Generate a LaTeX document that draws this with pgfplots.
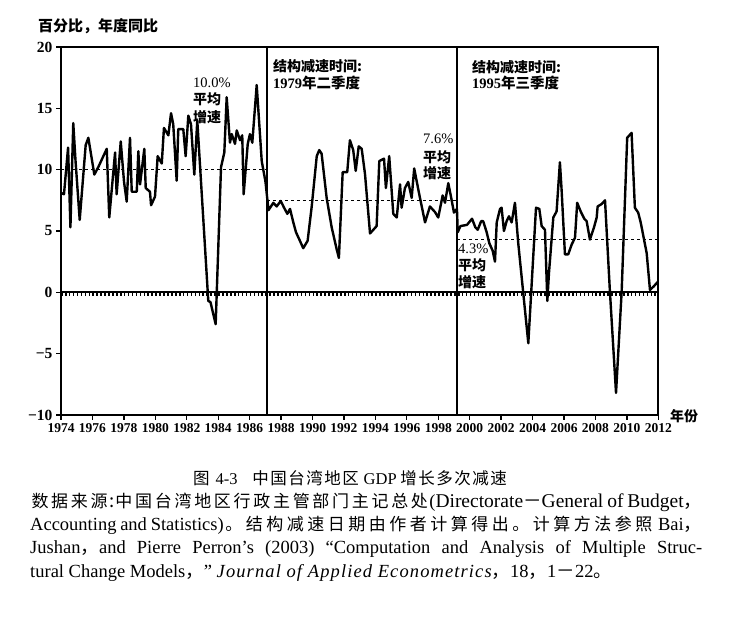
\documentclass[border=0pt]{standalone}
\usepackage{fontspec}
\usepackage{pgfplots}
\pgfplotsset{compat=1.18}
\setmainfont{Liberation Serif}
\newfontfamily\cjk{Noto Sans CJK SC}
\newlength\pitch
\def\spx#1{\ifx\relax#1\else\makebox[\pitch]{#1}\expandafter\spx\fi}
\newcommand\C[2][19.5pt]{{\cjk\setlength\pitch{#1}\spx#2\relax}}
\newcommand\Cs[2][19.5pt]{{\fontsize{17}{17}\selectfont\C[#1]{#2}}}
\pgfplotstableread{
x y
1974.00 8.1
1974.19 8.0
1974.45 11.8
1974.60 5.3
1974.78 13.8
1974.92 10.8
1975.19 5.9
1975.57 12.0
1975.74 12.6
1976.12 9.6
1976.37 10.2
1976.91 11.7
1977.07 6.1
1977.44 11.4
1977.54 8.0
1977.80 12.3
1978.01 9.0
1978.18 7.4
1978.39 12.6
1978.50 8.2
1978.82 8.2
1978.92 11.5
1979.03 8.8
1979.30 11.7
1979.39 8.5
1979.66 8.2
1979.73 7.1
1979.98 7.8
1980.15 11.1
1980.41 10.5
1980.55 13.4
1980.83 12.8
1981.00 14.6
1981.14 13.7
1981.36 9.1
1981.46 13.3
1981.78 13.3
1981.93 11.1
1982.10 14.4
1982.27 13.7
1982.48 9.6
1982.67 14.0
1983.37 -0.7
1983.51 -0.8
1983.84 -2.6
1984.18 10.2
1984.39 11.4
1984.54 15.9
1984.75 12.2
1984.86 12.9
1985.07 12.1
1985.18 13.2
1985.39 12.4
1985.53 12.8
1985.62 8.0
1985.88 12.1
1986.02 12.9
1986.17 12.2
1986.45 16.9
1986.77 10.7
1987.01 9.0
1987.20 6.7
1987.51 7.3
1987.72 7.0
1987.98 7.45
1988.19 6.9
1988.40 6.4
1988.57 6.8
1988.78 5.7
1988.95 4.9
1989.20 4.2
1989.41 3.6
1989.69 4.2
1989.95 7.0
1990.27 11.1
1990.43 11.6
1990.58 11.3
1990.90 7.7
1991.22 5.3
1991.54 3.5
1991.68 2.8
1991.92 9.8
1992.21 9.8
1992.38 12.4
1992.59 11.6
1992.75 9.9
1992.94 11.9
1993.13 11.7
1993.34 9.65
1993.66 4.8
1994.08 5.4
1994.25 10.7
1994.55 10.9
1994.67 8.5
1994.88 11.1
1995.14 6.4
1995.36 6.1
1995.57 8.8
1995.67 6.9
1995.88 8.5
1996.09 9.0
1996.31 7.7
1996.47 10.1
1996.79 8.0
1997.16 5.7
1997.47 7.0
1997.79 6.55
1998.00 6.1
1998.28 7.9
1998.43 7.3
1998.64 8.9
1998.81 7.8
1999.00 6.5
1999.19 6.8
1999.24 4.9
1999.41 5.4
1999.83 5.5
2000.15 6.0
2000.36 5.3
2000.51 5.1
2000.73 5.8
2000.86 5.8
2001.08 4.9
2001.25 4.0
2001.46 3.4
2001.61 2.5
2001.72 5.7
2001.93 6.8
2002.03 6.9
2002.18 5.0
2002.35 5.8
2002.50 6.2
2002.67 5.7
2002.88 7.3
2003.09 4.0
2003.73 -4.15
2004.22 6.9
2004.43 6.8
2004.58 5.4
2004.79 5.1
2004.94 -0.7
2005.04 1.5
2005.32 6.1
2005.53 6.6
2005.74 10.6
2005.85 8.3
2006.06 3.1
2006.27 3.1
2006.49 3.9
2006.70 4.45
2006.84 7.3
2007.06 6.6
2007.29 6.0
2007.44 5.8
2007.65 4.3
2007.91 5.3
2008.08 6.1
2008.14 7.0
2008.40 7.2
2008.61 7.5
2008.92 0.1
2009.31 -8.2
2009.67 0.1
2010.02 12.6
2010.30 13.0
2010.51 6.9
2010.72 6.5
2010.88 5.7
2011.26 3.2
2011.47 0.2
2011.72 0.5
2012.00 0.9
}\gdp
\begin{document}
\begin{tikzpicture}
\path[use as bounding box] (0pt,0pt) rectangle (736pt,629pt);
\begin{axis}[
  at={(61pt,214pt)}, anchor=south west,
  scale only axis, width=597.3pt, height=368pt,
  xmin=1974, xmax=2012, ymin=-10, ymax=20,
  xtick={1974,1976,...,2012}, ytick={-10,-5,...,20},
  yticklabels={−10,−5,0,5,10,15,20},
  xtick pos=bottom, ytick pos=left,
  tick align=outside, major tick length=5pt,
  tick style={black, line width=1.3pt},
  axis line style={line width=1.7pt},
  /pgf/number format/assume math mode=true,
  /pgf/number format/1000 sep={},
  x tick label style={font=\fontsize{13.5}{13}\selectfont\bfseries},
  y tick label style={font=\fontsize{15.5}{14}\selectfont\bfseries},
]
\addplot[black, line width=1.7pt] coordinates {(1974,0) (2012,0)};
\addplot[black, line width=3.6pt, dash pattern=on 1.6pt off 2.33pt] coordinates {(1974,-0.16) (2012,-0.16)};
\addplot[black, line width=1.6pt] coordinates {(1987.1,-10) (1987.1,20)};
\addplot[black, line width=1.6pt] coordinates {(1999.2,-10) (1999.2,20)};
\addplot[black, line width=1.6pt, dash pattern=on 3pt off 3pt] coordinates {(1974,10) (1987.1,10)};
\addplot[black, line width=1.6pt, dash pattern=on 3pt off 3pt] coordinates {(1987.1,7.5) (1999.2,7.5)};
\addplot[black, line width=1.6pt, dash pattern=on 3pt off 3pt] coordinates {(1999.2,4.3) (2012,4.3)};
\addplot[black, line width=2.4pt, line join=round] table[x=x,y=y] {\gdp};
\end{axis}
\begin{scope}[every node/.style={inner sep=0pt, anchor=west}]
\node at (38pt,603pt) {\fontsize{15}{15}\selectfont\cjk\bfseries 百分比，年度同比};
\node at (670pt,213pt) {\fontsize{14}{14}\selectfont\cjk\bfseries 年份};
% annotations
\node at (193pt,546pt) {\fontsize{14.5}{14}\selectfont 10.0\%};
\node at (193pt,530pt) {\fontsize{14}{14}\selectfont\cjk\bfseries 平均};
\node at (193pt,512pt) {\fontsize{14}{14}\selectfont\cjk\bfseries 增速};
\node at (273pt,563pt) {\fontsize{14}{14}\selectfont\cjk\bfseries 结构减速时间:};
\node at (273pt,546pt) {\fontsize{14.5}{14}\selectfont\bfseries 1979{\cjk 年二季度}};
\node at (423pt,490pt) {\fontsize{14.5}{14}\selectfont 7.6\%};
\node at (423pt,472pt) {\fontsize{14}{14}\selectfont\cjk\bfseries 平均};
\node at (423pt,456pt) {\fontsize{14}{14}\selectfont\cjk\bfseries 增速};
\node at (472pt,562pt) {\fontsize{14}{14}\selectfont\cjk\bfseries 结构减速时间:};
\node at (472pt,546pt) {\fontsize{14.5}{14}\selectfont\bfseries 1995{\cjk 年三季度}};
\node at (458pt,380pt) {\fontsize{14.5}{14}\selectfont 4.3\%};
\node at (458pt,364pt) {\fontsize{14}{14}\selectfont\cjk\bfseries 平均};
\node at (458pt,347pt) {\fontsize{14}{14}\selectfont\cjk\bfseries 增速};
% caption
\node at (193pt,151pt) {\fontsize{16.5}{16}\selectfont{\cjk 图}\hspace{6pt}4-3\hspace{14pt}\C[18pt]{中国台湾地区}\hspace{4pt}GDP\hspace{3pt}\C[18pt]{增长多次减速}};
\node at (30pt,127pt) {\fontsize{18.5}{18}\selectfont\makebox[672pt][s]{\Cs[19.7pt]{数据来源}{\cjk :}\Cs[19.7pt]{中国台湾地区行政主管部门主记总处}({\fontsize{19.5}{18}\selectfont Directorate}{\cjk －}{\fontsize{19.5}{18}\selectfont General of Budget}{\cjk ，}}};
\node at (30pt,103.5pt) {\fontsize{18.5}{18}\selectfont\makebox[672pt][s]{Accounting and Statistics)\Cs[20.5pt]{。结构减速日期由作者计算得出。计算方法参照} Bai{\cjk ，}}};
\node at (30pt,80pt) {\fontsize{18.5}{18}\selectfont\makebox[672pt][s]{Jushan{\cjk ，}and Pierre Perron's (2003) “Computation and Analysis of Multiple Struc-}};
\node at (30pt,56.5pt) {\fontsize{18.5}{18}\selectfont tural Change Models{\cjk ，}” {\itshape\addfontfeature{LetterSpace=6}Journal of Applied Econometrics}{\cjk ，}18{\cjk ，}1{\cjk －}22{\cjk 。}};
\end{scope}
\end{tikzpicture}
\end{document}
